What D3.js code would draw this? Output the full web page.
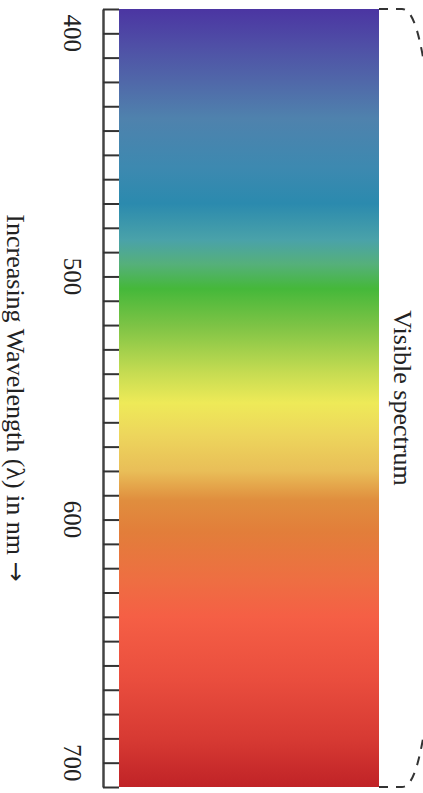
<!DOCTYPE html>
<html>
<head>
<meta charset="utf-8">
<script src="https://cdn.jsdelivr.net/npm/d3@7/dist/d3.min.js"></script>
<style>
  html, body { margin: 0; padding: 0; background: #ffffff; }
  svg { display: block; }
  text { font-family: "Liberation Serif", "Times New Roman", serif; fill: #222; }
</style>
</head>
<body>
<svg id="chart" width="423" height="793"></svg>
<script>
// ---- data ----
const wavelengthDomain = [390, 710];
const tickValues = d3.range(390, 711, 10);
const tickLabels = [400, 500, 600, 700];
const stopWavelengths = [390, 405, 420, 435, 455, 470, 485, 495, 505, 520, 540, 552, 565, 580, 592, 605, 625, 640, 665, 690, 710];
const stopColors = ["#4b35a2", "#4f4fa6", "#5068a9", "#4f82ad", "#3d89b0", "#2b8aae", "#4aa2a9", "#55b07a", "#45b83a", "#7cc345", "#c7dc52", "#eeea58", "#edd65c", "#e9be58", "#e08e3e", "#e27e3a", "#ee6e42", "#f55f45", "#ea4e3e", "#d73a33", "#c02327"];
const axisTitle = "Increasing Wavelength (\u03bb) in nm ";
const axisArrow = "\u2192";
const bracketLabel = "Visible spectrum";

// ---- layout ----
const svg = d3.select("#chart");
const plotTop = 9, plotBottom = 787;
const axisX = 103, barX0 = 119, barX1 = 379;

const y = d3.scaleLinear().domain(wavelengthDomain).range([plotTop, plotBottom]);

// gradient
const defs = svg.append("defs");
const grad = defs.append("linearGradient")
  .attr("id", "spec")
  .attr("gradientUnits", "userSpaceOnUse")
  .attr("x1", 0).attr("x2", 0)
  .attr("y1", y(wavelengthDomain[0])).attr("y2", y(wavelengthDomain[1]));
grad.selectAll("stop").data(stopWavelengths).join("stop")
  .attr("offset", d => (d - wavelengthDomain[0]) / (wavelengthDomain[1] - wavelengthDomain[0]))
  .attr("stop-color", (d, i) => stopColors[i]);

svg.append("rect")
  .attr("x", barX0).attr("y", y(wavelengthDomain[0]))
  .attr("width", barX1 - barX0)
  .attr("height", y(wavelengthDomain[1]) - y(wavelengthDomain[0]))
  .attr("fill", "url(#spec)");

// axis (ticks pointing right toward the spectrum)
const axis = d3.axisRight(y)
  .tickValues(tickValues)
  .tickSize(barX0 - axisX)
  .tickSizeOuter(0)
  .tickFormat("");
const ag = svg.append("g").attr("transform", `translate(${axisX},0)`).call(axis);
ag.select(".domain").attr("stroke", "#444").attr("stroke-width", 2.5);
ag.selectAll(".tick line").attr("stroke", "#333").attr("stroke-width", 2);

// tick labels (rotated)
svg.append("g").selectAll("text").data(tickLabels).join("text")
  .attr("transform", d => `translate(72,${y(d)}) rotate(90)`)
  .attr("text-anchor", "middle")
  .attr("dominant-baseline", "central")
  .attr("font-size", 25)
  .text(d => d);

// axis title
const title = svg.append("text")
  .attr("transform", `translate(16,${(plotTop + plotBottom) / 2}) rotate(90)`)
  .attr("text-anchor", "middle")
  .attr("dominant-baseline", "central")
  .attr("font-size", 26);
title.append("tspan").text(axisTitle);
title.append("tspan").attr("font-family", "DejaVu Sans").attr("font-size", 24).text(axisArrow);

// dashed bracket
const yt = y(wavelengthDomain[0]), yb = y(wavelengthDomain[1]);
const mid = (yt + yb) / 2;
const bracket = d3.path();
bracket.moveTo(barX1, yt);
bracket.lineTo(402, yt);
bracket.bezierCurveTo(414, yt, 421, yt + 30, 428, yt + 80);
bracket.lineTo(440, mid - 60);
bracket.moveTo(barX1, yb);
bracket.lineTo(402, yb);
bracket.bezierCurveTo(414, yb, 421, yb - 30, 428, yb - 80);
bracket.lineTo(440, mid + 60);
svg.append("path")
  .attr("d", bracket.toString())
  .attr("fill", "none")
  .attr("stroke", "#333")
  .attr("stroke-width", 2)
  .attr("stroke-dasharray", "9,8");

svg.append("text")
  .attr("transform", `translate(402,${mid}) rotate(90)`)
  .attr("text-anchor", "middle")
  .attr("dominant-baseline", "central")
  .attr("font-size", 26)
  .text(bracketLabel);
</script>
</body>
</html>
